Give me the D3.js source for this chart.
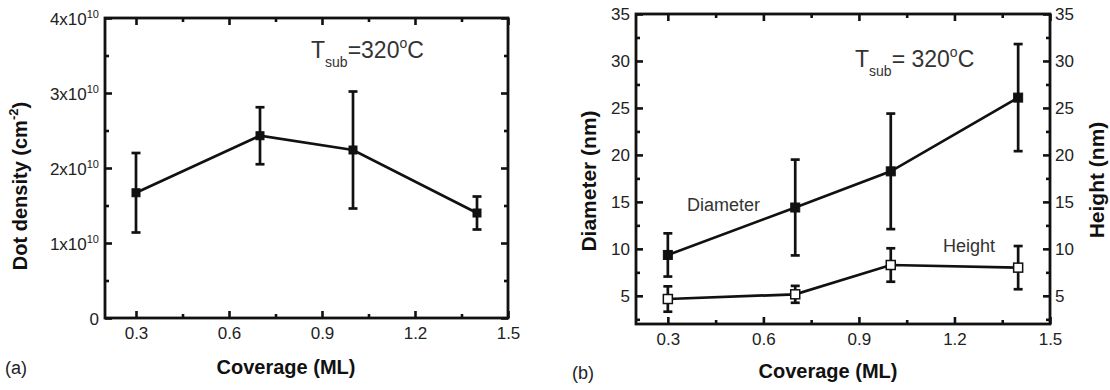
<!DOCTYPE html>
<html>
<head>
<meta charset="utf-8">
<script src="https://cdn.jsdelivr.net/npm/d3@7"></script>
<style>
  body { margin: 0; background: #fff; }
  text { font-family: "Liberation Sans", Arial, sans-serif; }
</style>
</head>
<body>
<svg id="chart" width="1110" height="390"></svg>
<script>
// values
const coverage = [0.3, 0.7, 1.0, 1.4];
const dotDensity = [1.67, 2.43, 2.24, 1.40];      // in 10^10 cm^-2
const dotDensityErr = [0.53, 0.38, 0.78, 0.22];
const diameter = [9.35, 14.4, 18.25, 26.1];        // nm
const diameterErr = [2.3, 5.1, 6.15, 5.7];
const heightNm = [4.66, 5.16, 8.28, 8.0];           // nm
const heightErr = [1.35, 0.9, 1.78, 2.3];

const xTicks = [0.3, 0.6, 0.9, 1.2, 1.5];
const xMinor = [0.45, 0.75, 1.05, 1.35];
const densityTicks = [0, 1, 2, 3, 4];
const densityMinor = [0.5, 1.5, 2.5, 3.5];
const sizeTicks = [5, 10, 15, 20, 25, 30, 35];
const sizeMinor = [2.5, 7.5, 12.5, 17.5, 22.5, 27.5, 32.5];

const svg = d3.select('#chart');
svg.append('rect').attr('width', 1110).attr('height', 390).attr('fill', '#fff');

function tickAxis(g, axisFn, scale, ticks, size, fmt, pad) {
  g.call(axisFn(scale).tickValues(ticks).tickSize(-size).tickSizeOuter(0)
    .tickPadding(pad || 8).tickFormat(fmt || ''));
  g.select('.domain').remove();
  g.selectAll('line').attr('stroke', '#111').attr('stroke-width', 2.6);
  g.selectAll('text').attr('fill', '#222').attr('font-size', 17).attr('font-family', '"Liberation Sans", Arial, sans-serif');
}

function frame(g, x, y, opts) {
  const [x0, x1] = x.range();
  const [y0, y1] = y.range();
  const fx = d3.format('.1f');
  const bottom = g.append('g').attr('transform', `translate(0,${y0})`);
  tickAxis(bottom, d3.axisBottom, x, xTicks, 7, fx, 9);
  tickAxis(g.append('g').attr('transform', `translate(0,${y0})`), d3.axisBottom, x, xMinor, 4);
  tickAxis(g.append('g').attr('transform', `translate(0,${y1})`), d3.axisTop, x, xTicks, 7);
  tickAxis(g.append('g').attr('transform', `translate(0,${y1})`), d3.axisTop, x, xMinor, 4);

  const left = g.append('g').attr('transform', `translate(${x0},0)`);
  tickAxis(left, d3.axisLeft, y, opts.yTicks, 7, opts.leftFmt, opts.leftPad);
  tickAxis(g.append('g').attr('transform', `translate(${x0},0)`), d3.axisLeft, y, opts.yMinor, 4);
  const right = g.append('g').attr('transform', `translate(${x1},0)`);
  tickAxis(right, d3.axisRight, y, opts.yTicks, 7, opts.rightFmt, opts.rightPad);
  tickAxis(g.append('g').attr('transform', `translate(${x1},0)`), d3.axisRight, y, opts.yMinor, 4);

  g.append('rect')
    .attr('x', x0).attr('y', y1)
    .attr('width', x1 - x0).attr('height', y0 - y1)
    .attr('fill', 'none').attr('stroke', '#111').attr('stroke-width', 2.8);
  return { left, right, bottom };
}

function series(g, x, y, vals, errs, open, size) {
  const pts = coverage.map((c, i) => ({ c, v: vals[i], e: errs[i] }));
  g.append('path')
    .datum(pts)
    .attr('fill', 'none').attr('stroke', '#111').attr('stroke-width', 2.7)
    .attr('d', d3.line().x(d => x(d.c)).y(d => y(d.v)));

  const bars = g.selectAll(null).data(pts).enter().append('g').attr('stroke', '#111').attr('stroke-width', 2.7);
  bars.append('line')
    .attr('x1', d => x(d.c)).attr('x2', d => x(d.c))
    .attr('y1', d => y(d.v - d.e)).attr('y2', d => y(d.v + d.e));
  bars.append('line')
    .attr('x1', d => x(d.c) - 4.5).attr('x2', d => x(d.c) + 4.5)
    .attr('y1', d => y(d.v + d.e)).attr('y2', d => y(d.v + d.e));
  bars.append('line')
    .attr('x1', d => x(d.c) - 4.5).attr('x2', d => x(d.c) + 4.5)
    .attr('y1', d => y(d.v - d.e)).attr('y2', d => y(d.v - d.e));

  g.selectAll(null).data(pts).enter().append('rect')
    .attr('x', d => x(d.c) - size / 2).attr('y', d => y(d.v) - size / 2)
    .attr('width', size).attr('height', size)
    .attr('fill', open ? '#fff' : '#111')
    .attr('stroke', '#111').attr('stroke-width', open ? 1.5 : 1);
}

function tsub(g, x, yb, rest) {
  const t = g.append('text').attr('x', x).attr('y', yb)
    .attr('font-size', 23).attr('fill', '#333');
  t.append('tspan').text('T');
  t.append('tspan').attr('font-size', 14).attr('dy', 9).text('sub');
  t.append('tspan').attr('dy', -9).text(rest);
  t.append('tspan').attr('font-size', 14).attr('dy', -10).text('o');
  t.append('tspan').attr('dy', 10).text('C');
}

// ---------- panel (a) ----------
const xa = d3.scaleLinear().domain([0.2, 1.5]).range([105, 508]);
const ya = d3.scaleLinear().domain([0, 4]).range([318, 18]);
const ga = svg.append('g');

const fa = frame(ga, xa, ya, {
  yTicks: densityTicks, yMinor: densityMinor,
  leftFmt: d => d, leftPad: 8
});
// 10^10 superscript labels on the left axis
fa.left.selectAll('text').each(function (d) {
  const t = d3.select(this).text(null).attr('font-size', 17);
  if (d === 0) { t.text('0'); return; }
  t.append('tspan').text(`${d}x10`);
  t.append('tspan').attr('font-size', 11).attr('dy', '-0.7em').text('10');
});
fa.left.selectAll('text').attr('x', -6).attr('dy', '0.4em');

series(ga, xa, ya, dotDensity, dotDensityErr, false, 8);
tsub(ga, 311, 58, '=320');

ga.append('text')
  .attr('transform', 'translate(27,186) rotate(-90)')
  .attr('text-anchor', 'middle').attr('font-size', 20).attr('font-weight', 'bold').attr('fill', '#111')
  .call(t => {
    t.append('tspan').text('Dot density (cm');
    t.append('tspan').attr('font-size', 13).attr('dy', '-0.7em').text('-2');
    t.append('tspan').attr('dy', '0.45em').text(')');
  });
ga.append('text').attr('x', 286).attr('y', 374).attr('text-anchor', 'middle')
  .attr('font-size', 20).attr('font-weight', 'bold').attr('fill', '#111').text('Coverage (ML)');
ga.append('text').attr('x', 5).attr('y', 374).attr('font-size', 18)
  .attr('font-family', '"Liberation Serif", "Times New Roman", serif').attr('fill', '#222').text('(a)');

// ---------- panel (b) ----------
const xb = d3.scaleLinear().domain([0.2, 1.5]).range([636, 1050]);
const yb = d3.scaleLinear().domain([2, 35]).range([324, 14]);
const gb = svg.append('g');

frame(gb, xb, yb, {
  yTicks: sizeTicks, yMinor: sizeMinor,
  leftFmt: d => d, leftPad: 6,
  rightFmt: d => d, rightPad: 5
});

series(gb, xb, yb, diameter, diameterErr, false, 9);
series(gb, xb, yb, heightNm, heightErr, true, 9);
tsub(gb, 855, 67, '= 320');

gb.append('text').attr('x', 687).attr('y', 211).attr('font-size', 18).attr('fill', '#333').text('Diameter');
gb.append('text').attr('x', 943).attr('y', 252).attr('font-size', 18).attr('fill', '#333').text('Height');

gb.append('text')
  .attr('transform', 'translate(596,181) rotate(-90)')
  .attr('text-anchor', 'middle').attr('font-size', 21).attr('font-weight', 'bold').attr('fill', '#111')
  .text('Diameter (nm)');
gb.append('text')
  .attr('transform', 'translate(1104,180) rotate(-90)')
  .attr('text-anchor', 'middle').attr('font-size', 21).attr('font-weight', 'bold').attr('fill', '#111')
  .text('Height (nm)');
gb.append('text').attr('x', 828).attr('y', 378).attr('text-anchor', 'middle')
  .attr('font-size', 20).attr('font-weight', 'bold').attr('fill', '#111').text('Coverage (ML)');
gb.append('text').attr('x', 572).attr('y', 379).attr('font-size', 18)
  .attr('font-family', '"Liberation Serif", "Times New Roman", serif').attr('fill', '#222').text('(b)');
</script>
</body>
</html>
